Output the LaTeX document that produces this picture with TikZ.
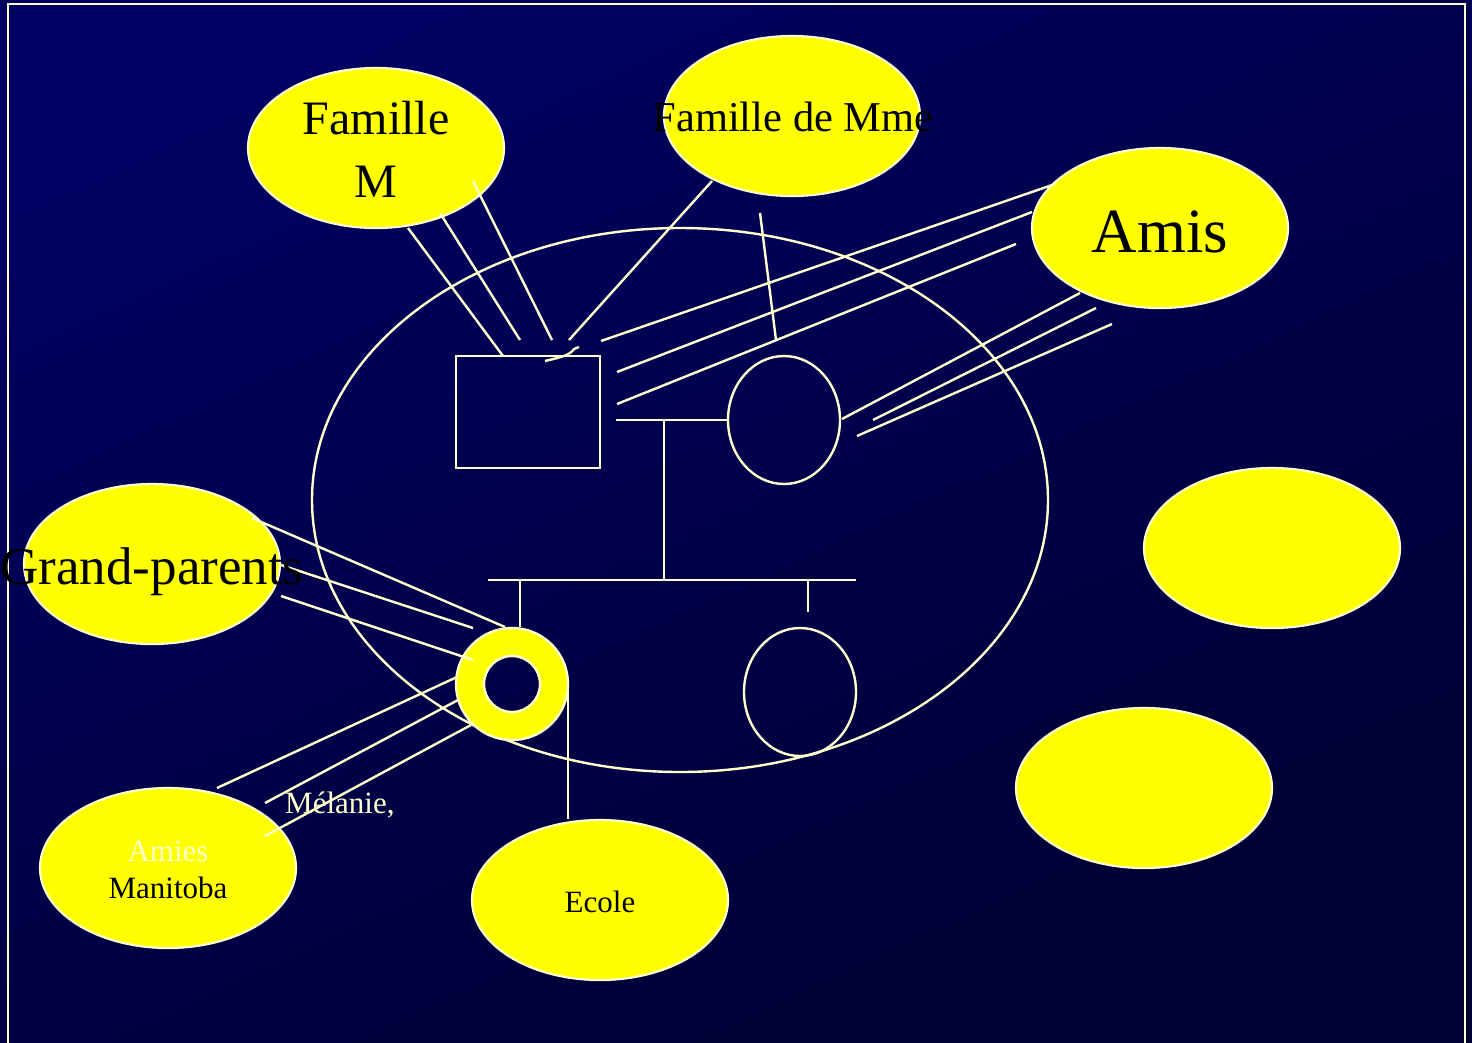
\documentclass[tikz,border=0pt]{standalone}
\usepackage{fontspec}
\setmainfont{Liberation Serif}
\usetikzlibrary{shapes.geometric}
\definecolor{bgtop}{RGB}{0,0,98}
\definecolor{bgbot}{RGB}{0,0,50}
\definecolor{cream}{RGB}{255,255,204}
\definecolor{yel}{RGB}{255,255,0}
\newcommand{\fsz}[1]{\fontsize{#1}{#1}\selectfont}

\begin{document}
\begin{tikzpicture}[x=1pt,y=-1pt,
  ln/.style={draw=cream,line width=2.4pt},
  bubble/.style={ellipse,fill=yel,draw=cream,line width=2.2pt,
    minimum width=256pt,minimum height=160pt,inner sep=0pt},
  lbl/.style={anchor=base,inner sep=0pt,text=black},
  figure/.style={draw=cream,line width=2.4pt,inner sep=0pt},
]
\useasboundingbox (0,0) rectangle (1472,1042);
% background and frame
\shade[top color=bgtop,bottom color=bgbot,shading angle=25] (0,0) rectangle (1472,1042);
\draw[ln,line width=2.5pt] (8,4) rectangle (1465,1070);

% household ellipse
\node[figure,ellipse,minimum width=736pt,minimum height=544pt] (house) at (680,500) {};

% surrounding bubbles
\node[bubble] (famM)   at (376,148) {};
\node[bubble] (famMme) at (792,116) {};
\node[bubble] (amis)   at (1160,228) {};
\node[bubble] (empty1) at (1272,548) {};
\node[bubble] (empty2) at (1144,788) {};
\node[bubble] (grand)  at (152,564) {};
\node[bubble] (amies)  at (168,868) {};
\node[bubble] (ecole)  at (600,900) {};

% genogram
\node[figure,rectangle,minimum width=144pt,minimum height=112pt] (father) at (528,412) {};
\node[figure,ellipse,minimum width=112pt,minimum height=128pt] (mother) at (784,420) {};
\node[figure,ellipse,minimum width=112pt,minimum height=128pt] (sister) at (800,692) {};
\path[fill=yel,even odd rule] (512,684) circle (56) (512,684) circle (28);
\node[figure,circle,minimum size=112pt] (melanie) at (512,684) {};
\node[figure,circle,minimum size=56pt] (melin) at (512,684) {};

\coordinate (m1) at (616,420);
\coordinate (m2) at (664,420);
\coordinate (s0) at (664,580);
\coordinate (sL) at (488,580);
\coordinate (sR) at (856,580);
\coordinate (c1) at (520,580);
\coordinate (c2) at (808,580);
\coordinate (c2e) at (808,612);
\draw[ln] (m1) -- (mother.west);
\draw[ln] (m2) -- (s0);
\draw[ln] (sL) -- (sR);
\draw[ln] (c1) -- (melanie.north -| c1);
\draw[ln] (c2) -- (c2e);

% ties from Famille M
\coordinate (fa1) at (408,228); \coordinate (fb1) at (503,356);
\coordinate (fa2) at (440,213); \coordinate (fb2) at (520,340);
\coordinate (fa3) at (473,181); \coordinate (fb3) at (552,340);
\draw[ln] (fa1) -- (fb1);
\draw[ln] (fa2) -- (fb2);
\draw[ln] (fa3) -- (fb3);
% ties from Famille de Mme
\coordinate (ma1) at (712,181); \coordinate (mb1) at (569,340);
\coordinate (ma2) at (760,213); \coordinate (mb2) at (776,340);
\draw[ln] (ma1) -- (mb1);
\draw[ln] (ma2) -- (mb2);
\coordinate (hk1) at (545,361); \coordinate (hk2) at (579,347);
\draw[ln] (hk1) .. controls (562,357) and (570,355) .. (574,349) -- (hk2);
% ties from Amis
\coordinate (aa1) at (601,341); \coordinate (ab1) at (1055,184);
\coordinate (aa2) at (617,372); \coordinate (ab2) at (1032,212);
\coordinate (aa3) at (617,404); \coordinate (ab3) at (1016,244);
\coordinate (aa4) at (842,419); \coordinate (ab4) at (1080,293);
\coordinate (aa5) at (873,420); \coordinate (ab5) at (1096,308);
\coordinate (aa6) at (857,436); \coordinate (ab6) at (1112,324);
\foreach \i in {1,...,6} \draw[ln] (aa\i) -- (ab\i);
% ties from Grand-parents
\coordinate (ga1) at (252,518); \coordinate (gb1) at (505,627);
\coordinate (ga2) at (281,565); \coordinate (gb2) at (473,628);
\coordinate (ga3) at (281,596); \coordinate (gb3) at (473,660);
\foreach \i in {1,2,3} \draw[ln] (ga\i) -- (gb\i);
% ties from Amies Manitoba
\coordinate (ta1) at (217,788); \coordinate (tb1) at (457,677);
\coordinate (ta2) at (265,803); \coordinate (tb2) at (458,700);
\coordinate (ta3) at (265,836); \coordinate (tb3) at (471,725);
\foreach \i in {1,2,3} \draw[ln] (ta\i) -- (tb\i);
% tie to Ecole
\coordinate (ea) at (568,690);
\draw[ln] (ea) -- (ecole.north -| ea);

% labels
\node[lbl] (tFam) at (376,134) {\fsz{48}Famille};
\node[lbl] (tM)   at (376,197) {\fsz{48}M};
\node[lbl] (tMme) at (793,131) {\fsz{42.5}Famille de Mme};
\node[lbl] (tAmis) at (1160,252) {\fsz{63}Amis};
\node[lbl] (tGP)  at (152,584) {\fsz{53}Grand-parents};
\node[lbl,anchor=base west,text=cream] (tMel) at (285,813) {\fsz{31}Mélanie,};
\node[lbl,text=cream] (tAmies) at (168,861) {\fsz{31}Amies};
\node[lbl] (tMan) at (168,898) {\fsz{31}Manitoba};
\node[lbl] (tEc)  at (600,912) {\fsz{31}Ecole};
\end{tikzpicture}
\end{document}
